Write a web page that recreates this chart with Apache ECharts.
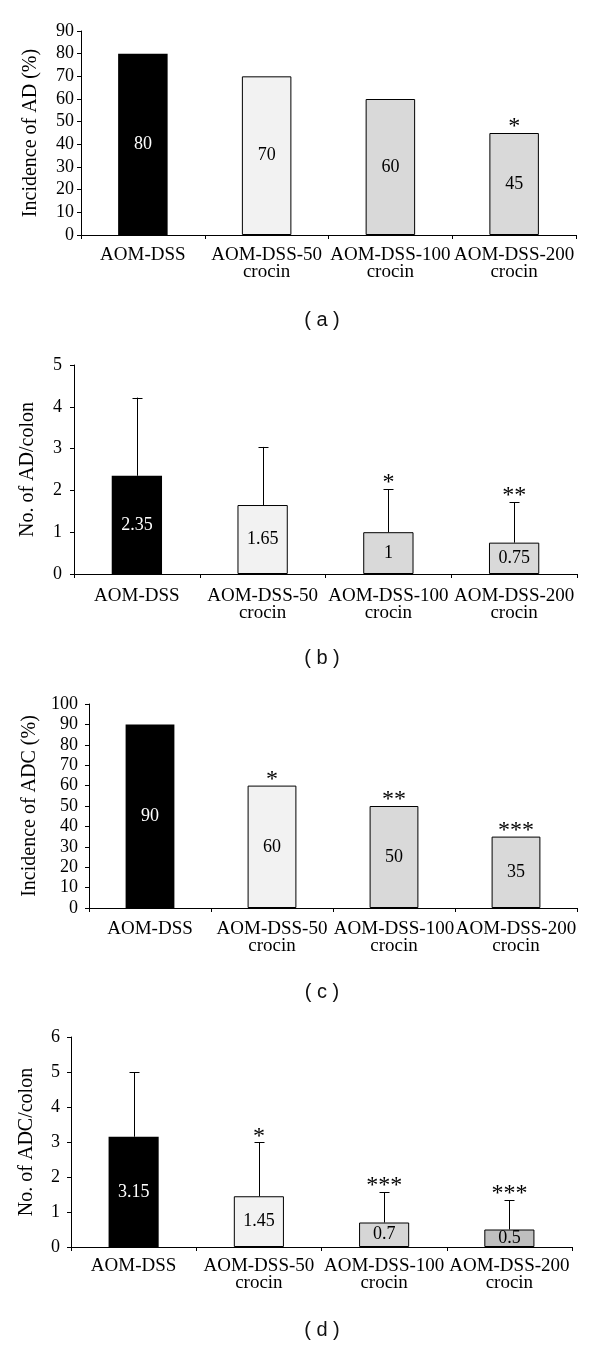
<!DOCTYPE html>
<html><head><meta charset="utf-8">
<script src="https://cdn.jsdelivr.net/npm/echarts@6/dist/echarts.min.js"></script>
<style>html,body{margin:0;padding:0;background:#fff}#c{width:600px;height:1345px}</style>
</head><body><div id="c"></div>
<script>
// ---- data ----
const categories = ['AOM-DSS', 'AOM-DSS-50\ncrocin', 'AOM-DSS-100\ncrocin', 'AOM-DSS-200\ncrocin'];
const incidenceAD = [80, 70, 60, 45];
const adPerColon = [2.35, 1.65, 1, 0.75];
const adPerColonSD = [1.87, 1.39, 1.03, 0.97];
const incidenceADC = [90, 60, 50, 35];
const adcPerColon = [3.15, 1.45, 0.7, 0.5];
const adcPerColonSD = [1.85, 1.54, 0.87, 0.84];
const sigA = ['', '', '', '*'];
const sigB = ['', '', '*', '**'];
const sigC = ['', '*', '**', '***'];
const sigD = ['', '*', '***', '***'];
const yTitles = ['Incidence of AD (%)', 'No. of AD/colon', 'Incidence of ADC (%)', 'No. of ADC/colon'];
const panelLetters = ['( a )', '( b )', '( c )', '( d )'];
const yMax = [90, 5, 100, 6];
const yInterval = [10, 1, 10, 1];

// ---- styles / layout ----
const barColorsABC = ['#000000', '#f2f2f2', '#d9d9d9', '#d9d9d9'];
const barColorsD = ['#000000', '#f2f2f2', '#d6d6d6', '#bfbfbf'];
const layout = [
  {left: 81, top: 31, right: 576, bottom: 235, nameGap: 40, yMargin: 7, xMargin: 12, letterY: 320},
  {left: 74, top: 365, right: 577, bottom: 574, nameGap: 36, yMargin: 12, xMargin: 14, letterY: 658},
  {left: 89, top: 704, right: 577, bottom: 908, nameGap: 48, yMargin: 11, xMargin: 13, letterY: 992},
  {left: 71, top: 1037, right: 572, bottom: 1247, nameGap: 34, yMargin: 11, xMargin: 11, letterY: 1330}
];
const panels = [
  {values: incidenceAD, sd: [0, 0, 0, 0], sig: sigA, colors: barColorsABC},
  {values: adPerColon, sd: adPerColonSD, sig: sigB, colors: barColorsABC},
  {values: incidenceADC, sd: [0, 0, 0, 0], sig: sigC, colors: barColorsABC},
  {values: adcPerColon, sd: adcPerColonSD, sig: sigD, colors: barColorsD}
];

const SERIF = '"Liberation Serif", "Times New Roman", serif';
const grids = [], xAxes = [], yAxes = [], series = [], graphics = [];

panels.forEach((p, k) => {
  const L = layout[k];
  grids.push({left: L.left, top: L.top, width: L.right - L.left, height: L.bottom - L.top, containLabel: false, outerBoundsMode: 'none'});
  xAxes.push({
    type: 'category', gridIndex: k, data: categories, boundaryGap: true,
    axisLine: {show: true, lineStyle: {color: '#000', width: 1}},
    axisTick: {show: true, length: 4, inside: false, interval: 0, lineStyle: {color: '#000', width: 1}},
    axisLabel: {interval: 0, color: '#000', fontFamily: SERIF, fontSize: 19, lineHeight: 17, margin: L.xMargin},
    splitLine: {show: false}
  });
  yAxes.push({
    type: 'value', gridIndex: k, min: 0, max: yMax[k], interval: yInterval[k],
    axisLine: {show: true, lineStyle: {color: '#000', width: 1}},
    axisTick: {show: true, length: 4, inside: false, lineStyle: {color: '#000', width: 1}},
    axisLabel: {color: '#000', fontFamily: SERIF, fontSize: 18, margin: L.yMargin},
    splitLine: {show: false},
    name: yTitles[k], nameLocation: 'middle', nameGap: L.nameGap,
    nameTextStyle: {color: '#000', fontFamily: SERIF, fontSize: 20}
  });
  series.push({
    type: 'bar', xAxisIndex: k, yAxisIndex: k, barWidth: '40%',
    data: p.values.map((v, i) => ({
      value: v,
      itemStyle: {color: p.colors[i], borderColor: '#000', borderWidth: i === 0 ? 0 : 1},
      label: {color: i === 0 ? '#fff' : '#000'}
    })),
    label: {show: true, position: 'inside', fontFamily: SERIF, fontSize: 18, formatter: '{c}'},
    silent: true, animation: false
  });
  const sigArr = p.sig;
  series.push({
    type: 'custom', xAxisIndex: k, yAxisIndex: k, z: 5, silent: true, animation: false,
    data: p.values.map((v, i) => [i, v, p.sd[i]]),
    encode: {x: 0, y: 1},
    renderItem: function (params, api) {
      const idx = api.value(0), val = api.value(1), err = api.value(2);
      const top = api.coord([idx, val]);
      const hi = api.coord([idx, val + err]);
      const children = [];
      if (err > 0) {
        const x = Math.round(hi[0]) + 0.5;
        children.push({type: 'line', shape: {x1: x, y1: top[1], x2: x, y2: hi[1]}, style: {stroke: '#000', lineWidth: 1}});
        children.push({type: 'line', shape: {x1: x - 5, y1: Math.round(hi[1]) + 0.5, x2: x + 5, y2: Math.round(hi[1]) + 0.5}, style: {stroke: '#000', lineWidth: 1}});
      }
      const s = sigArr[idx];
      if (s) {
        children.push({type: 'text', x: hi[0], y: hi[1] - 6,
          style: {text: s, fontFamily: SERIF, fontSize: 24, fill: '#000', align: 'center', verticalAlign: 'middle'}});
      }
      return {type: 'group', children: children};
    }
  });
  graphics.push({type: 'text', x: 322, y: L.letterY,
    style: {text: panelLetters[k], fontFamily: '"Liberation Sans", Arial, sans-serif', fontSize: 20, fill: '#111', align: 'center', verticalAlign: 'middle'}});
});

const chart = echarts.init(document.getElementById('c'), null, {renderer: 'canvas'});
chart.setOption({
  animation: false,
  backgroundColor: '#fff',
  grid: grids, xAxis: xAxes, yAxis: yAxes, series: series, graphic: graphics
});
</script></body></html>
